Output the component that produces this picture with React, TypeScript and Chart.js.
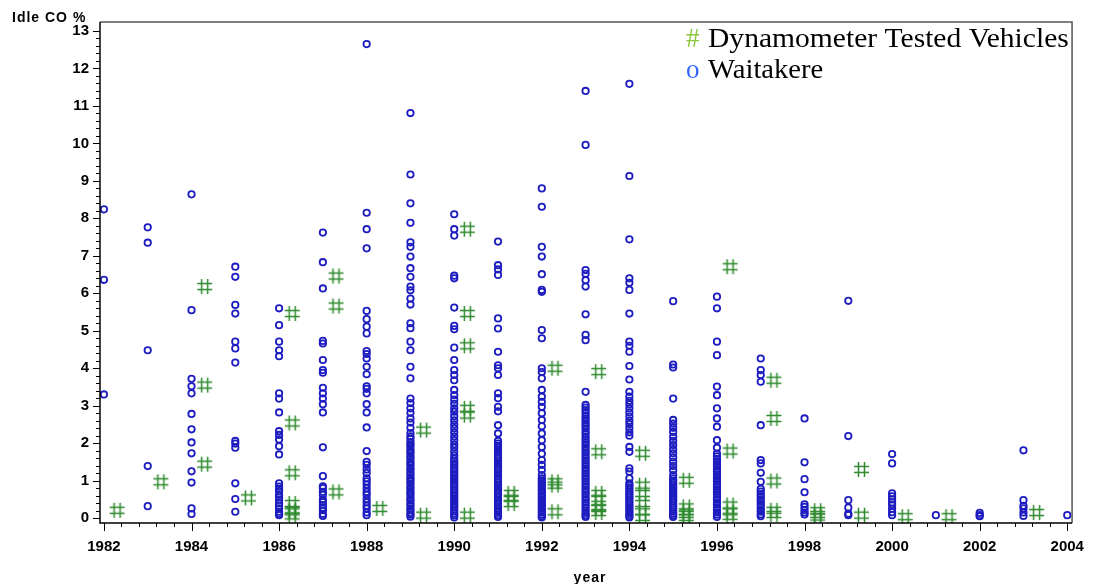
import React, { useEffect, useRef } from "react";
import { Chart, registerables } from "chart.js";

Chart.register(...registerables);

// ---- axes ----
const X_TICKS = [1982, 1984, 1986, 1988, 1990, 1992, 1994, 1996, 1998, 2000, 2002, 2004];
const Y_TICKS = [0, 1, 2, 3, 4, 5, 6, 7, 8, 9, 10, 11, 12, 13];
const X_MIN = 1981.91;
const X_MAX = 2004.11;
const Y_MIN = -0.13;
const Y_MAX = 13.24;

const Y_TITLE = "Idle CO %";
const X_TITLE = "year";
const LEGEND_DYNO = "Dynamometer Tested Vehicles";
const LEGEND_WAIT = "Waitakere";

// ---- Waitakere (o) : values per model year ----
const WAITAKERE_YEARS = [1982, 1983, 1984, 1985, 1986, 1987, 1988, 1989, 1990, 1991, 1992, 1993, 1994, 1995, 1996, 1997, 1998, 1999, 2000, 2001, 2002, 2003, 2004];
const W_1982 = [8.24, 6.36, 3.3];
const W_1983 = [7.76, 7.35, 4.48, 1.39, 0.32];
const W_1984 = [8.64, 5.55, 3.72, 3.52, 3.33, 2.78, 2.37, 2.02, 1.73, 1.25, 0.95, 0.26, 0.11];
const W_1985 = [6.71, 6.44, 5.69, 5.46, 4.71, 4.53, 4.15, 2.06, 1.99, 1.88, 0.93, 0.51, 0.17];
const W_1986 = [5.6, 5.15, 4.71, 4.48, 4.32, 3.33, 3.19, 2.82, 2.32, 2.22, 2.1, 1.92, 1.7, 0.93, 0.84, 0.78, 0.72, 0.62, 0.55, 0.49, 0.4, 0.33, 0.26, 0.17, 0.12, 0.08];
const W_1987 = [7.62, 6.83, 6.13, 4.73, 4.66, 4.22, 3.95, 3.88, 3.48, 3.33, 3.19, 3.04, 2.82, 1.89, 1.12, 0.85, 0.8, 0.7, 0.62, 0.49, 0.43, 0.35, 0.28, 0.21, 0.11, 0.06];
const W_1988 = [12.65, 8.15, 7.71, 7.2, 5.53, 5.31, 5.11, 4.93, 4.46, 4.38, 4.26, 4.04, 3.84, 3.52, 3.45, 3.33, 3.04, 2.82, 2.42, 1.79, 1.5, 1.42, 1.3, 1.2, 1.06, 0.98, 0.9, 0.8, 0.7, 0.62, 0.51, 0.42, 0.33, 0.26, 0.15, 0.08];
const W_1989 = [10.81, 9.17, 8.4, 7.88, 7.36, 7.24, 6.98, 6.67, 6.44, 6.18, 6.08, 5.86, 5.7, 5.2, 5.07, 4.71, 4.48, 4.04, 3.73, 3.19, 3.07, 2.93, 2.81, 2.66, 2.55, 2.41, 2.27, 2.18, 2.12, 2.03, 1.97, 1.92, 1.84, 1.78, 1.73, 1.65, 1.6, 1.52, 1.46, 1.41, 1.33, 1.29, 1.21, 1.16, 1.08, 1.04, 0.97, 0.91, 0.83, 0.78, 0.7, 0.66, 0.59, 0.51, 0.47, 0.39, 0.34, 0.26, 0.21, 0.14, 0.09, 0.04];
const W_1990 = [8.11, 7.71, 7.54, 6.47, 6.4, 5.62, 5.13, 5.04, 4.55, 4.22, 3.95, 3.82, 3.68, 3.42, 3.28, 3.16, 3.05, 2.93, 2.84, 2.72, 2.61, 2.5, 2.4, 2.29, 2.18, 2.08, 1.97, 1.88, 1.77, 1.67, 1.58, 1.52, 1.46, 1.41, 1.35, 1.3, 1.24, 1.18, 1.13, 1.07, 1.02, 0.96, 0.9, 0.85, 0.79, 0.74, 0.68, 0.62, 0.57, 0.51, 0.46, 0.4, 0.34, 0.29, 0.23, 0.18, 0.12, 0.07, 0.02];
const W_1991 = [7.38, 6.75, 6.64, 6.49, 5.33, 5.06, 4.44, 4.08, 4.0, 3.82, 3.33, 3.2, 2.97, 2.85, 2.48, 2.26, 2.06, 1.99, 1.93, 1.88, 1.82, 1.76, 1.7, 1.64, 1.59, 1.53, 1.47, 1.41, 1.35, 1.3, 1.24, 1.18, 1.12, 1.06, 1.01, 0.95, 0.89, 0.83, 0.77, 0.72, 0.66, 0.6, 0.54, 0.48, 0.43, 0.37, 0.31, 0.25, 0.19, 0.14, 0.08, 0.03];
const W_1992 = [8.8, 8.31, 7.24, 6.98, 6.51, 6.09, 6.04, 5.02, 4.8, 4.0, 3.9, 3.73, 3.42, 3.24, 3.1, 2.97, 2.8, 2.62, 2.45, 2.26, 2.08, 1.9, 1.72, 1.55, 1.42, 1.29, 1.15, 1.06, 1.01, 0.96, 0.91, 0.86, 0.81, 0.76, 0.71, 0.66, 0.61, 0.56, 0.5, 0.45, 0.4, 0.35, 0.3, 0.25, 0.2, 0.15, 0.1, 0.05, 0.02];
const W_1993 = [11.4, 9.96, 6.62, 6.52, 6.35, 6.18, 5.44, 4.89, 4.75, 3.37, 3.02, 2.95, 2.88, 2.81, 2.73, 2.66, 2.6, 2.52, 2.46, 2.39, 2.31, 2.25, 2.17, 2.1, 2.03, 1.96, 1.89, 1.82, 1.75, 1.68, 1.61, 1.54, 1.47, 1.4, 1.33, 1.26, 1.19, 1.12, 1.05, 0.98, 0.91, 0.84, 0.77, 0.7, 0.63, 0.56, 0.49, 0.42, 0.35, 0.28, 0.21, 0.14, 0.08, 0.03];
const W_1994 = [11.59, 9.13, 7.44, 6.4, 6.28, 6.09, 5.46, 4.71, 4.6, 4.44, 4.06, 3.7, 3.37, 3.24, 3.13, 3.04, 2.93, 2.82, 2.71, 2.6, 2.51, 2.4, 2.29, 2.2, 1.9, 1.77, 1.33, 1.24, 1.06, 0.93, 0.88, 0.82, 0.77, 0.71, 0.66, 0.6, 0.55, 0.49, 0.44, 0.38, 0.33, 0.27, 0.22, 0.16, 0.11, 0.06, 0.02];
const W_1995 = [5.79, 4.1, 4.02, 3.19, 2.62, 2.52, 2.41, 2.3, 2.17, 2.06, 1.95, 1.84, 1.73, 1.62, 1.5, 1.39, 1.28, 1.15, 1.06, 1.0, 0.94, 0.89, 0.83, 0.78, 0.72, 0.67, 0.61, 0.56, 0.5, 0.45, 0.39, 0.34, 0.28, 0.23, 0.17, 0.12, 0.07, 0.03];
const W_1996 = [5.91, 5.6, 4.71, 4.35, 3.51, 3.28, 2.93, 2.66, 2.44, 2.08, 1.88, 1.72, 1.65, 1.58, 1.51, 1.44, 1.38, 1.31, 1.24, 1.17, 1.1, 1.04, 0.97, 0.9, 0.83, 0.76, 0.7, 0.63, 0.56, 0.49, 0.42, 0.36, 0.29, 0.22, 0.15, 0.09, 0.03];
const W_1997 = [4.26, 3.95, 3.82, 3.64, 2.48, 1.55, 1.46, 1.21, 0.97, 0.78, 0.71, 0.64, 0.57, 0.5, 0.44, 0.37, 0.3, 0.23, 0.17, 0.1, 0.05];
const W_1998 = [2.66, 1.49, 1.04, 0.69, 0.37, 0.3, 0.22, 0.15, 0.1];
const W_1999 = [5.8, 2.19, 0.48, 0.28, 0.12, 0.08];
const W_2000 = [1.71, 1.46, 0.66, 0.58, 0.5, 0.42, 0.35, 0.25, 0.16, 0.08];
const W_2001 = [0.08];
const W_2002 = [0.14, 0.08, 0.05];
const W_2003 = [1.81, 0.48, 0.33, 0.26, 0.15, 0.06];
const W_2004 = [0.08];
const WAITAKERE_VALUES = [W_1982, W_1983, W_1984, W_1985, W_1986, W_1987, W_1988, W_1989, W_1990, W_1991, W_1992, W_1993, W_1994, W_1995, W_1996, W_1997, W_1998, W_1999, W_2000, W_2001, W_2002, W_2003, W_2004];

// ---- Dynamometer tested vehicles (#) : plotted at year + 0.3 ----
const DYNO_YEARS = [1982.3, 1983.3, 1984.3, 1985.3, 1986.3, 1987.3, 1988.3, 1989.3, 1990.3, 1991.3, 1992.3, 1993.3, 1994.3, 1995.3, 1996.3, 1997.3, 1998.3, 1999.3, 2000.3, 2001.3, 2003.3];
const DYNO_VALUES = [
  [0.21],
  [0.97],
  [6.18, 3.55, 1.44],
  [0.54],
  [5.46, 2.54, 1.21, 0.39, 0.21, 0.17, 0.06],
  [6.46, 5.66, 0.7],
  [0.26],
  [2.35, 0.08],
  [7.71, 5.46, 4.6, 2.93, 2.75, 0.08],
  [0.66, 0.53, 0.39],
  [4.0, 0.97, 0.88, 0.17],
  [3.91, 1.77, 0.66, 0.53, 0.28, 0.26, 0.15],
  [1.73, 0.88, 0.66, 0.39, 0.17, 0.02],
  [1.01, 0.3, 0.17, 0.1, 0.02],
  [6.71, 1.79, 0.35, 0.17, 0.05],
  [3.68, 2.66, 0.99, 0.21, 0.1],
  [0.2, 0.1, 0.03],
  [1.3, 0.08],
  [0.04],
  [0.04],
  [0.15],
];

const BLUE = "#1c1cc0";
const GREEN = "#2f8a2f";
const AXIS_FONT = "Liberation Sans";

function makeHash(): HTMLCanvasElement {
  const c = document.createElement("canvas");
  c.width = 17;
  c.height = 17;
  const g = c.getContext("2d")!;
  g.strokeStyle = GREEN;
  g.lineWidth = 1.5;
  g.beginPath();
  g.moveTo(5.5, 1);
  g.lineTo(5.5, 16);
  g.moveTo(11.5, 1);
  g.lineTo(11.5, 16);
  g.moveTo(1, 5.5);
  g.lineTo(16, 5.5);
  g.moveTo(1, 11.5);
  g.lineTo(16, 11.5);
  g.stroke();
  return c;
}

function stretchedText(ctx: CanvasRenderingContext2D, text: string, x: number, y: number, sx: number) {
  ctx.save();
  ctx.translate(x, y);
  ctx.scale(sx, 1);
  ctx.fillText(text, 0, 0);
  ctx.restore();
}

const decorPlugin = {
  id: "decor",
  afterDraw(chart: any) {
    const { ctx, chartArea: a } = chart;
    const xs = chart.scales.x;
    const ys = chart.scales.y;
    ctx.save();
    // frame
    ctx.lineWidth = 1.5;
    ctx.strokeStyle = "#555";
    ctx.beginPath();
    ctx.moveTo(a.left, a.top);
    ctx.lineTo(a.right, a.top);
    ctx.lineTo(a.right, a.bottom);
    ctx.stroke();
    ctx.strokeStyle = "#000";
    ctx.beginPath();
    ctx.moveTo(a.left, a.top);
    ctx.lineTo(a.left, a.bottom);
    ctx.lineTo(a.right, a.bottom);
    ctx.stroke();

    // ticks
    ctx.lineWidth = 1;
    ctx.beginPath();
    for (let i = 0; i < X_TICKS.length; i++) {
      const p = Math.round(xs.getPixelForValue(X_TICKS[i])) + 0.5;
      ctx.moveTo(p, a.bottom);
      ctx.lineTo(p, a.bottom + 8);
      if (i < X_TICKS.length - 1) {
        for (let k = 1; k < 5; k++) {
          const v = X_TICKS[i] + ((X_TICKS[i + 1] - X_TICKS[i]) * k) / 5;
          const q = Math.round(xs.getPixelForValue(v)) + 0.5;
          ctx.moveTo(q, a.bottom);
          ctx.lineTo(q, a.bottom + 4);
        }
      }
    }
    for (let i = 0; i < Y_TICKS.length; i++) {
      const p = Math.round(ys.getPixelForValue(Y_TICKS[i])) + 0.5;
      ctx.moveTo(a.left, p);
      ctx.lineTo(a.left - 7, p);
      if (i < Y_TICKS.length - 1) {
        for (let k = 1; k < 5; k++) {
          const v = Y_TICKS[i] + ((Y_TICKS[i + 1] - Y_TICKS[i]) * k) / 5;
          const q = Math.round(ys.getPixelForValue(v)) + 0.5;
          ctx.moveTo(a.left, q);
          ctx.lineTo(a.left - 4, q);
        }
      }
    }
    ctx.stroke();

    // axis titles
    ctx.fillStyle = "#000";
    ctx.font = `bold 14px "${AXIS_FONT}"`;
    (ctx as any).letterSpacing = "1px";
    ctx.textAlign = "left";
    ctx.textBaseline = "alphabetic";
    ctx.fillText(Y_TITLE, 12, 22);
    ctx.textAlign = "center";
    ctx.fillText(X_TITLE, 590, 582);
    (ctx as any).letterSpacing = "0px";

    // legend
    ctx.textAlign = "left";
    ctx.font = `27px "Liberation Serif"`;
    ctx.fillStyle = "#8cc63f";
    ctx.fillText("#", 686, 47);
    ctx.fillStyle = "#000";
    stretchedText(ctx, LEGEND_DYNO, 708, 47, 1.095);
    ctx.fillStyle = "#3366ff";
    ctx.fillText("o", 686, 78);
    ctx.fillStyle = "#000";
    stretchedText(ctx, LEGEND_WAIT, 708, 78, 1.06);
    ctx.restore();
  },
};

export default function App() {
  const ref = useRef<HTMLCanvasElement>(null);

  useEffect(() => {
    if (!ref.current) return;
    const waitData: { x: number; y: number }[] = [];
    WAITAKERE_YEARS.forEach((yr, i) => {
      WAITAKERE_VALUES[i].forEach((v) => waitData.push({ x: yr, y: v }));
    });
    const dynoData: { x: number; y: number }[] = [];
    DYNO_YEARS.forEach((yr, i) => {
      DYNO_VALUES[i].forEach((v) => dynoData.push({ x: yr, y: v }));
    });
    const hash = makeHash();

    const chart = new Chart(ref.current, {
      type: "scatter",
      data: {
        datasets: [
          {
            label: LEGEND_DYNO,
            data: dynoData,
            pointStyle: hash as any,
            pointRadius: 8,
          },
          {
            label: LEGEND_WAIT,
            data: waitData,
            pointStyle: "circle",
            pointRadius: 3.2,
            pointBorderWidth: 1.8,
            pointBorderColor: BLUE,
            pointBackgroundColor: "rgba(0,0,0,0)",
          },
        ],
      },
      plugins: [decorPlugin],
      options: {
        animation: false,
        responsive: false,
        devicePixelRatio: 1,
        layout: { padding: { left: 0, right: 13, top: 22, bottom: 0 } },
        plugins: {
          legend: { display: false },
          tooltip: { enabled: false },
        },
        scales: {
          x: {
            type: "linear",
            min: X_MIN,
            max: X_MAX,
            afterBuildTicks: (s: any) => {
              s.ticks = X_TICKS.map((v) => ({ value: v }));
            },
            afterFit: (s: any) => {
              s.height = 61;
            },
            grid: { display: false, drawTicks: false },
            border: { display: false },
            ticks: {
              autoSkip: false,
              maxRotation: 0,
              padding: 15,
              color: "#000",
              font: { family: AXIS_FONT, size: 15, weight: "bold" },
              callback: (v: any) => String(v),
            },
          },
          y: {
            type: "linear",
            min: Y_MIN,
            max: Y_MAX,
            afterBuildTicks: (s: any) => {
              s.ticks = Y_TICKS.map((v) => ({ value: v }));
            },
            afterFit: (s: any) => {
              s.width = 100;
            },
            grid: { display: false, drawTicks: false },
            border: { display: false },
            ticks: {
              autoSkip: false,
              padding: 11,
              color: "#000",
              font: { family: AXIS_FONT, size: 15, weight: "bold" },
              callback: (v: any) => String(v),
            },
          },
        },
      },
    });
    return () => chart.destroy();
  }, []);

  return (
    <div style={{ position: "fixed", left: 0, top: 0, width: 1099, height: 584, background: "#fff" }}>
      <canvas ref={ref} width={1099} height={584} style={{ display: "block" }} />
    </div>
  );
}
